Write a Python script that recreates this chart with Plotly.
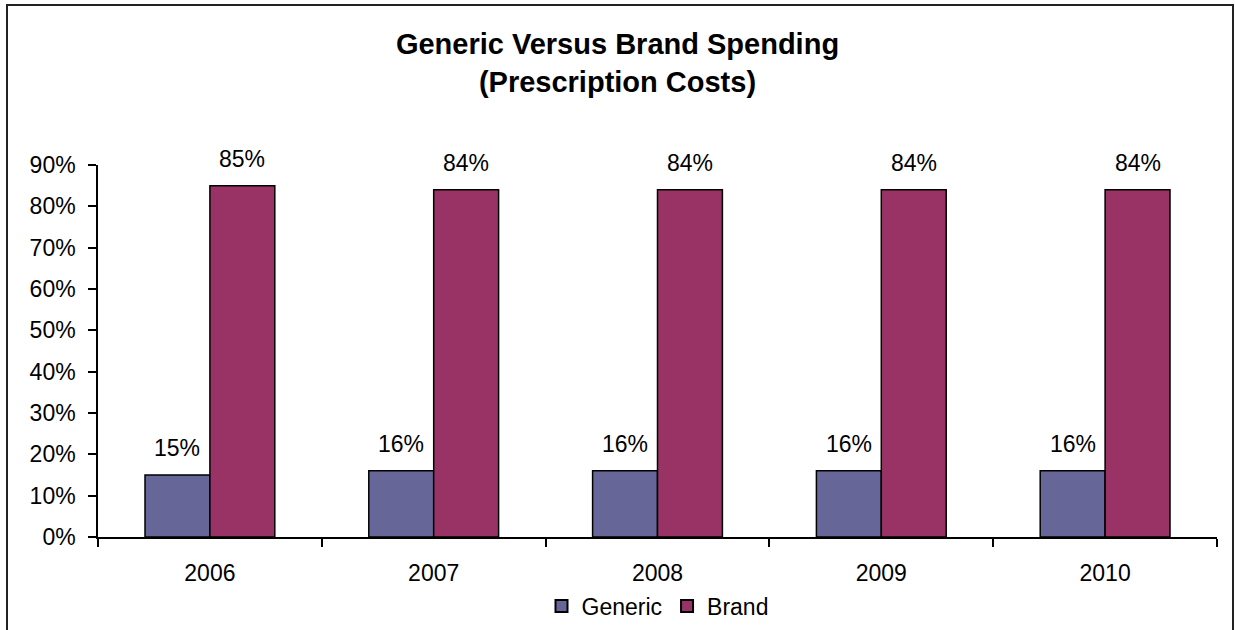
import plotly.graph_objects as go

years = ["2006", "2007", "2008", "2009", "2010"]
generic = [0.15, 0.16, 0.16, 0.16, 0.16]
brand = [0.85, 0.84, 0.84, 0.84, 0.84]
generic_labels = ["15%", "16%", "16%", "16%", "16%"]
brand_labels = ["85%", "84%", "84%", "84%", "84%"]
y_ticks = [0, 0.1, 0.2, 0.3, 0.4, 0.5, 0.6, 0.7, 0.8, 0.9]
y_ticktext = ["0%", "10%", "20%", "30%", "40%", "50%", "60%", "70%", "80%", "90%"]

W, H = 1235, 630
ML, MR, MT, MB = 98, 18, 165, 93
PW = W - ML - MR
PH = H - MT - MB

FONT = "Liberation Sans, Arial, sans-serif"

fig = go.Figure()
fig.add_trace(go.Bar(x=years, y=generic, name="Generic",
                     marker=dict(color="#666699", line=dict(color="black", width=1.5))))
fig.add_trace(go.Bar(x=years, y=brand, name="Brand",
                     marker=dict(color="#993366", line=dict(color="black", width=1.5))))

bar_px = PW / len(years) * 0.58 / 2
for vals, labs, sign in [(generic, generic_labels, -1), (brand, brand_labels, 1)]:
    for i, (v, t) in enumerate(zip(vals, labs)):
        fig.add_annotation(x=i, y=v, text=t, showarrow=False, xref="x", yref="y",
                           xshift=sign * bar_px / 2, yshift=27, yanchor="middle",
                           font=dict(family=FONT, size=23, color="black"))

# outer chart border
x0 = (7 - ML) / PW
x1 = (1233 - ML) / PW
y1 = (H - MB - 5) / PH
y0 = (H - MB - 650) / PH
fig.add_shape(type="rect", xref="paper", yref="paper", x0=x0, x1=x1, y0=y0, y1=y1,
              line=dict(color="#222222", width=2), fillcolor="rgba(0,0,0,0)", layer="above")

fig.update_layout(
    width=W, height=H,
    margin=dict(l=ML, r=MR, t=MT, b=MB, pad=0, autoexpand=False),
    paper_bgcolor="white", plot_bgcolor="white",
    barmode="group", bargap=0.42, bargroupgap=0,
    font=dict(family=FONT, size=23, color="black"),
    title=dict(text="<b>Generic Versus Brand Spending<br>(Prescription Costs)</b>",
               x=0.5, xref="container", xanchor="center",
               y=1 - 54 / H, yref="container", yanchor="middle",
               font=dict(family=FONT, size=29, color="black")),
    showlegend=True,
    legend=dict(orientation="h", x=0.5, xanchor="center", xref="paper",
                y=-(606 - (H - MB)) / PH, yanchor="middle",
                font=dict(family=FONT, size=23, color="black"),
                itemsizing="constant", bgcolor="rgba(0,0,0,0)"),
    xaxis=dict(type="category", categoryorder="array", categoryarray=years,
               range=[-0.5, len(years) - 0.5], automargin=False,
               showline=True, linecolor="black", linewidth=1.5,
               ticks="outside", ticklen=8, tickcolor="black", tickwidth=1.5,
               tickson="boundaries", showgrid=False, zeroline=False,
               ticklabelstandoff=15,
               tickfont=dict(family=FONT, size=23, color="black")),
    yaxis=dict(range=[0, 0.9], tickvals=y_ticks, ticktext=y_ticktext, automargin=False,
               showline=True, linecolor="black", linewidth=1.5,
               ticks="outside", ticklen=8, tickcolor="black", tickwidth=1.5,
               showgrid=False, zeroline=False, ticklabelstandoff=8,
               tickfont=dict(family=FONT, size=23, color="black")),
)

fig.write_html("out.html", config={"displayModeBar": False},
               post_script="document.body.style.margin='0';document.body.style.overflow='hidden';")
